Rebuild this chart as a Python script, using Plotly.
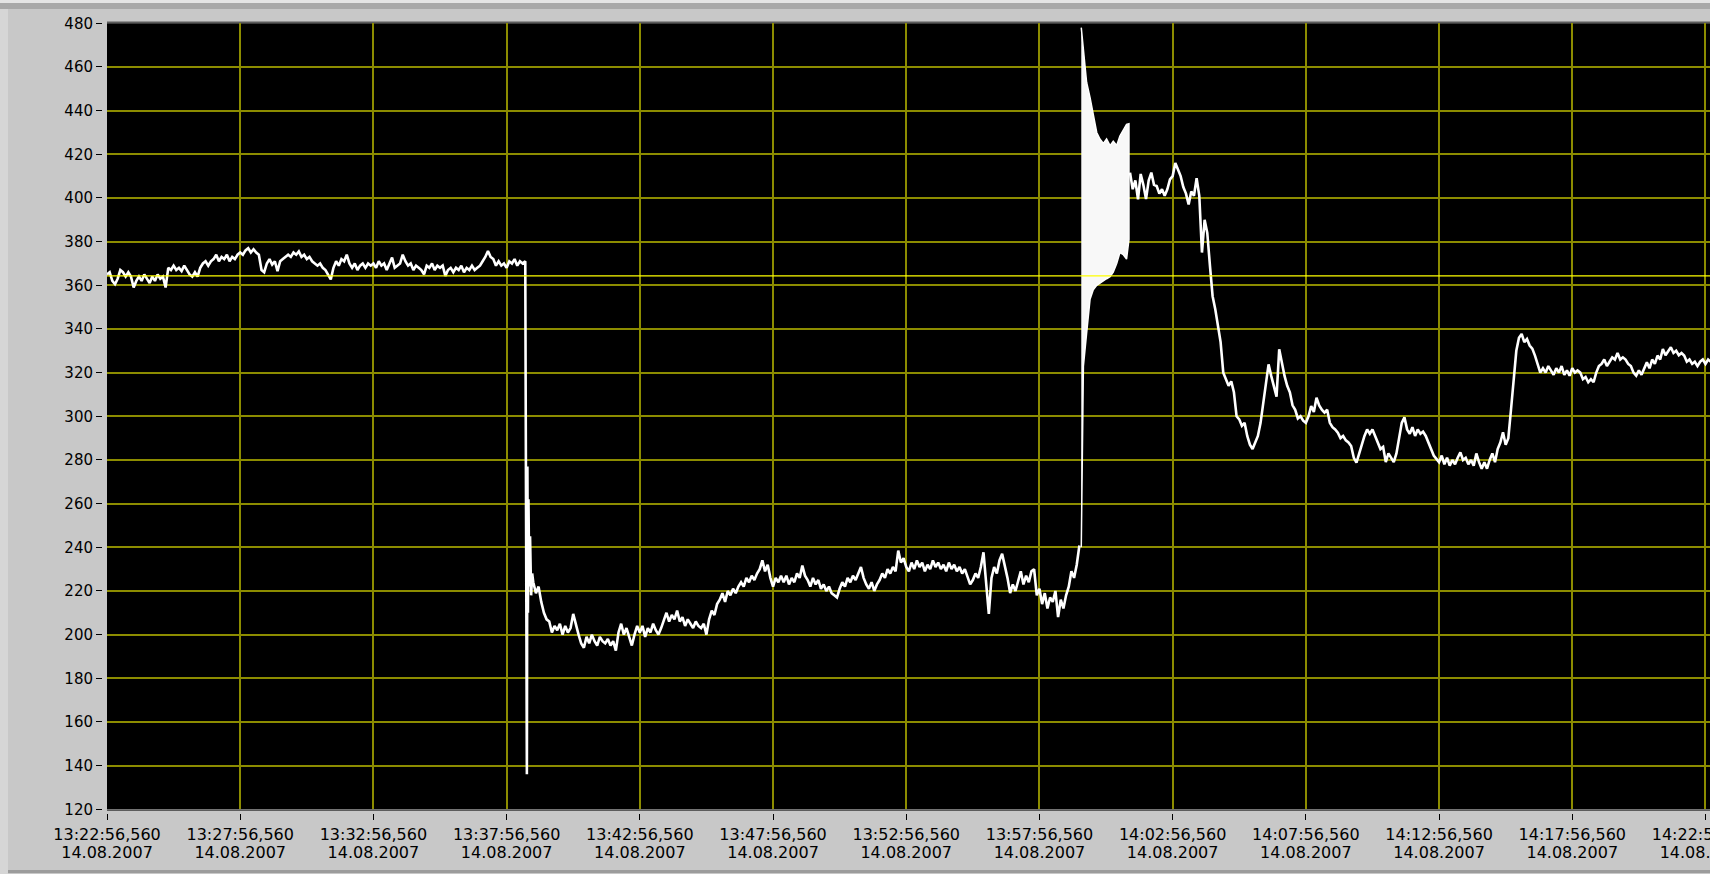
import pandas as pd
import plotly.graph_objects as go

# Time base of the recording and the visible window (minutes after start)
START = pd.Timestamp("2007-08-14 13:22:56.560")
WINDOW_MIN = 60.17
SAMPLE_STEP = 0.1  # minutes between logged samples

# Plateau before the step, sampled every 0.1 min from t = 0.0
plateau_start = 0.0
plateau_vals = [
    365, 366, 362, 360.5, 363, 367, 366, 364, 366, 364,
    359, 362, 364, 362, 365, 363, 361, 364, 362, 365,
    363, 364, 359, 368, 367, 369, 367, 368, 366.5, 369,
    367, 365, 364, 366, 364, 368, 370, 371, 369, 371,
    372, 374, 371, 373, 372, 374, 371, 373, 372, 374,
    375, 374, 376, 377, 375, 376.5, 375, 374, 367, 366,
    370, 372, 369.5, 371, 366.5, 371, 372, 373, 374, 373,
    375, 374, 375.5, 373, 374, 372, 373, 371, 370, 369,
    370, 368, 367, 365, 362.7, 368, 371, 369, 372, 371,
    374, 370, 368, 370, 367, 369, 370, 368, 370, 369,
    370, 368, 371, 369, 370, 367, 370, 372.7, 368, 369,
    370, 374, 371, 369, 370, 367, 369, 368, 367, 365,
    369, 368, 370, 367, 369, 368, 369, 364.3, 367, 368,
    366, 368, 367, 369, 366, 368, 367, 369, 367, 368,
    369, 371, 373, 375.7, 373, 372, 369, 371, 369, 370,
    368, 371, 370, 372, 369, 371, 370, 371,
]

# Fast transient after the drop (explicit times)
drop_min = [15.76, 15.78, 15.80, 15.82, 15.85, 15.88, 15.92, 15.96]
drop_vals = [136, 277, 210, 262, 222, 245, 218, 228]

# Low level phase, sampled every 0.1 min from t = 16.0
low_start = 16.0
low_vals = [
    224, 219, 222, 215, 210, 207, 206, 201, 204, 202,
    205, 200, 204, 201, 203, 209.5, 204, 200, 196, 194,
    199, 196, 200, 197, 195, 199, 197, 196, 198, 195,
    197, 192.7, 201, 205, 200, 203, 199, 195, 200, 204,
    201, 204, 199, 203, 201, 205, 202, 200, 203, 207,
    210, 206, 209, 207, 211, 206, 208, 204, 207, 205,
    203, 206, 204, 203, 205, 200, 207, 211, 209, 214,
    216, 219, 215, 220, 218, 221, 219, 222, 224, 222,
    226, 224, 227, 225, 228, 230, 234, 229, 232, 226,
    222, 226, 224, 227, 224, 227, 223, 226, 224, 228,
    226, 231.6, 227, 225, 222, 226, 223, 225, 221, 223,
    220, 222, 219, 218, 217, 221, 224, 222, 226, 224,
    227, 225, 228, 231, 226, 223, 221, 224, 220, 223,
    225, 228, 226, 230, 228, 231, 229, 238.5, 233, 235,
    231, 229, 233, 230, 234, 231, 233, 229, 232, 230,
    234, 231, 233, 230, 232, 229, 233, 230, 232, 229,
    231, 228, 230, 226, 223, 225, 228, 226, 231, 237.7,
    222, 209.5, 226, 231, 228, 234, 237, 232, 226, 219,
    223, 220, 225, 229, 223, 227, 224, 229, 230, 218,
    221, 214, 219, 212, 217, 215, 220, 208, 216, 212,
    218, 222, 229, 226, 232, 240.8,
]

# Oscillation burst: upper and lower envelope
burst_min = [36.57, 36.65, 36.77, 36.90, 37.02, 37.15, 37.27, 37.40,
             37.52, 37.65, 37.77, 37.90, 38.02, 38.15, 38.27, 38.36]
burst_hi = [478, 468, 453, 446, 437.6, 430, 427, 425,
            427, 424, 426, 424, 428.4, 431, 433.7, 434]
burst_lo = [240, 323, 338, 353.6, 358, 360, 361, 362,
            363, 364, 366, 370, 375, 374, 372, 381]

# Settling phase, sampled every 0.1 min from t = 38.4
settle_start = 38.4
settle_vals = [
    411.6, 404, 408, 399.4, 411, 406,
    399.5, 408, 411.6, 406, 405.5, 402, 404, 401, 404, 408.5,
    410, 416, 413, 410, 405, 402, 397, 403, 401, 409,
    401, 375, 390, 384, 369, 355, 349, 341, 334, 320,
    317, 314, 316, 311, 300, 298.6, 295.6, 297, 291, 287,
    285, 288, 291, 297, 306, 315.5, 323.8, 318.5, 313, 309,
    330.7, 324, 318.5, 314, 311, 305, 303, 299, 300, 298,
    297, 300, 304.7, 302, 308.5, 305, 303, 301.7, 303, 297,
    295, 294, 292.5, 290, 291, 289, 288, 286.4, 281, 278.8,
    283, 288, 291, 294, 292, 294, 291, 288, 285, 286,
    279, 283, 281, 279, 283, 290, 297, 299.5, 294, 292,
    295, 291, 294, 292, 293, 291, 288, 285, 282, 280.5,
    279, 282, 278, 281, 277.4, 280, 278, 281, 283.5, 280,
    281, 278, 280, 277.4, 283, 279, 276, 279, 276, 280,
    283, 279, 285, 288, 292.7, 287, 290, 303, 316, 330,
    336, 337.7, 334, 335.4, 332.4, 331, 327.8, 324, 320, 322,
    320, 323, 321, 319, 322, 320, 323, 319, 321, 318.6,
    322, 320, 321, 320, 317, 318, 315.6, 317, 315.6, 320,
    323, 324, 326, 323, 325, 327, 326, 329, 326, 327,
    326, 324, 323, 320, 318.6, 321, 319, 322, 324.7, 322,
    326, 324, 327.8, 326, 330.8, 328, 330, 331.6, 329, 330,
    328, 329, 327.8, 325, 326, 324, 325, 323, 325, 326,
    324, 326, 325,
]

# Setpoint level (constant)
setpoint_min = [0.0, WINDOW_MIN]
setpoint_vals = [364.3, 364.3]

Y_RANGE = [120, 480]
Y_STEP = 20
X_TICK_MS = 5 * 60 * 1000


def sampled(start, vals):
    return [start + SAMPLE_STEP * i for i in range(len(vals))]


def to_time(minutes):
    return [None if m is None else START + pd.Timedelta(minutes=m) for m in minutes]


trend_min = (sampled(plateau_start, plateau_vals) + drop_min
             + sampled(low_start, low_vals) + [None]
             + sampled(settle_start, settle_vals))
trend_vals = plateau_vals + drop_vals + low_vals + [None] + settle_vals

# figure geometry in pixels
W, H = 1710, 874
PL, PT, PB = 107, 23.3, 809.3

fig = go.Figure()

fig.add_trace(go.Scatter(
    x=to_time(trend_min), y=trend_vals, mode="lines",
    line=dict(color="#ffffff", width=2.6), connectgaps=False,
    hoverinfo="skip"))

fig.add_trace(go.Scatter(
    x=to_time(burst_min + burst_min[::-1]), y=burst_hi + burst_lo[::-1],
    mode="lines", fill="toself", fillcolor="#f8f8f8",
    line=dict(color="#ffffff", width=1.5), hoverinfo="skip"))

fig.add_trace(go.Scatter(
    x=to_time(setpoint_min), y=setpoint_vals, mode="lines",
    line=dict(color="#ffff00", width=1.4), xaxis="x2", hoverinfo="skip"))

y_font = dict(family="DejaVu Sans", size=15, color="#000000")
x_font = dict(family="DejaVu Sans", size=16, color="#000000")
grid_col = "#8c8c00"
x_range = [START, START + pd.Timedelta(minutes=WINDOW_MIN)]

fig.update_layout(
    width=W, height=H,
    margin=dict(l=0, r=0, t=0, b=0, autoexpand=False),
    paper_bgcolor="#c8c8c8",
    plot_bgcolor="#000000",
    showlegend=False,
    xaxis=dict(
        type="date", domain=[PL / W, 1], range=x_range, automargin=False,
        anchor="free", position=(H - PB - 4) / H,
        tick0=START, dtick=X_TICK_MS, tickformat="%H:%M:%S,%L",
        ticks="outside", ticklen=6, tickwidth=1, tickcolor="#000000",
        ticklabeloverflow="allow",
        showgrid=True, gridcolor=grid_col, gridwidth=1.6,
        zeroline=False, showline=False, tickfont=x_font),
    xaxis2=dict(
        type="date", overlaying="x", matches="x", range=x_range,
        automargin=False,
        anchor="free", position=(H - PB - 32) / H,
        tick0=START, dtick=X_TICK_MS, tickformat="%d.%m.%Y",
        ticks="", showgrid=False, zeroline=False, showline=False,
        ticklabeloverflow="allow", tickfont=x_font),
    yaxis=dict(
        domain=[1 - PB / H, 1 - PT / H], range=Y_RANGE, automargin=False,
        anchor="free", position=(PL - 5) / W,
        tick0=Y_RANGE[0], dtick=Y_STEP,
        ticks="outside", ticklen=6, tickwidth=1, tickcolor="#000000",
        showgrid=True, gridcolor=grid_col, gridwidth=1.6,
        zeroline=False, showline=False, tickfont=y_font),
)

# panel bezel
bezel = [
    dict(x0=0, x1=8 / W, y0=0, y1=1, fillcolor="#d6d6d6"),
    dict(x0=0, x1=1, y0=1 - 3 / H, y1=1, fillcolor="#e4e4e4"),
    dict(x0=0, x1=1, y0=1 - 9 / H, y1=1 - 3 / H, fillcolor="#a8a8a8"),
    dict(x0=8 / W, x1=1, y0=1 / H, y1=4 / H, fillcolor="#9c9c9c"),
]
for b in bezel:
    fig.add_shape(type="rect", xref="paper", yref="paper", line_width=0,
                  layer="below", **b)

# dark frame at the top and bottom of the plot area
for yy in (1 - PT / H + 1 / H, 1 - PB / H - 1 / H):
    fig.add_shape(type="line", xref="paper", yref="paper",
                  x0=PL / W, x1=1, y0=yy, y1=yy,
                  line=dict(color="#5c5c5c", width=1.5), layer="above")

fig.write_html("out.html")
